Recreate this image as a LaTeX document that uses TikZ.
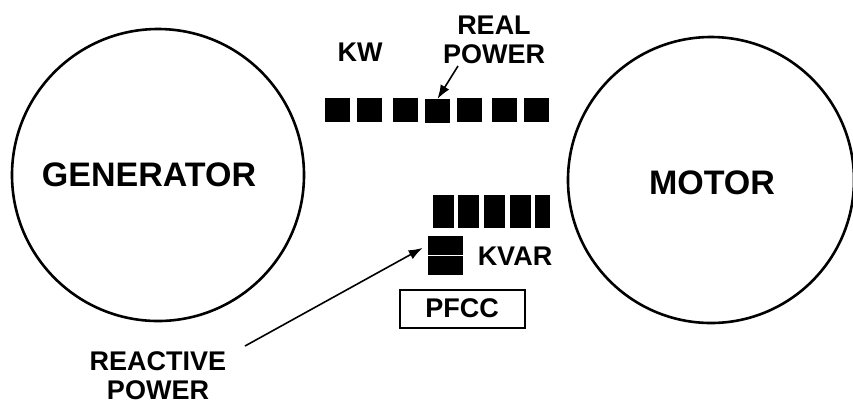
\documentclass[tikz,border=0pt]{standalone}
\usepackage{fontspec}
\setmainfont{Liberation Sans}
\usetikzlibrary{arrows.meta}

\begin{document}
\begin{tikzpicture}[x=0.5pt,y=-0.5pt,
  machine/.style={draw,circle,line width=1.3pt,inner sep=0pt},
  bigtext/.style={font=\fontsize{17}{20}\selectfont\bfseries},
  tag/.style={font=\fontsize{13.5}{14.5}\selectfont\bfseries,align=center},
  bar/.style={fill=black,inner sep=0pt},
  kwbar/.style={bar,minimum width=12.5pt,minimum height=11.7pt},
  varbar/.style={bar,minimum width=10.75pt,minimum height=16.7pt},
  stackbar/.style={bar,minimum width=17.5pt,minimum height=9.5pt},
  ptr/.style={-{Latex[length=7pt,width=5pt]},line width=0.8pt}]
  \useasboundingbox (0,0) rectangle (853,404);
  % generator and motor
  \node[machine,minimum size=146pt] (gen) at (158,175) {};
  \node[bigtext] (genlbl) at (149,175) {GENERATOR};
  \node[machine,minimum size=143pt] (mot) at (711,180) {};
  \node[bigtext] (motlbl) at (712,183) {MOTOR};
  % real power blocks
  \node[tag] (kw) at (360,52) {KW};
  \node[tag] (real) at (494,40) {REAL\\POWER};
  \node[kwbar] (kw1) at (337.5,110) {};
  \node[kwbar] (kw2) at (369,110) {};
  \node[kwbar] (kw3) at (405.5,110) {};
  \node[kwbar] (kw4) at (437.5,111) {};
  \node[kwbar] (kw5) at (469,110) {};
  \node[kwbar] (kw6) at (504,110) {};
  \node[kwbar] (kw7) at (536,110) {};
  \coordinate (realtail) at (458,66);
  \draw[ptr] (realtail) -- (kw4.north);
  % reactive power blocks
  \node[varbar] (var1) at (443.3,211.7) {};
  \node[varbar] (var2) at (468.7,211.7) {};
  \node[varbar] (var3) at (494.7,211.7) {};
  \node[varbar] (var4) at (520.3,211.7) {};
  \node[varbar,minimum width=7.5pt] (var5) at (542.5,211.7) {};
  \node[stackbar] (stk1) at (445.8,245) {};
  \node[stackbar] (stk2) at (445.8,265.8) {};
  \node[tag] (kvar) at (515,256) {KVAR};
  \node[tag,draw,line width=1pt,minimum width=62.5pt,minimum height=19pt] (pfcc) at (462,308.5) {PFCC};
  \node[tag] (reactive) at (158,375.5) {REACTIVE\\POWER};
  \coordinate (reacttail) at (245,346);
  \draw[ptr,shorten >=3pt] (reacttail) -- (stk1.west);
\end{tikzpicture}
\end{document}
